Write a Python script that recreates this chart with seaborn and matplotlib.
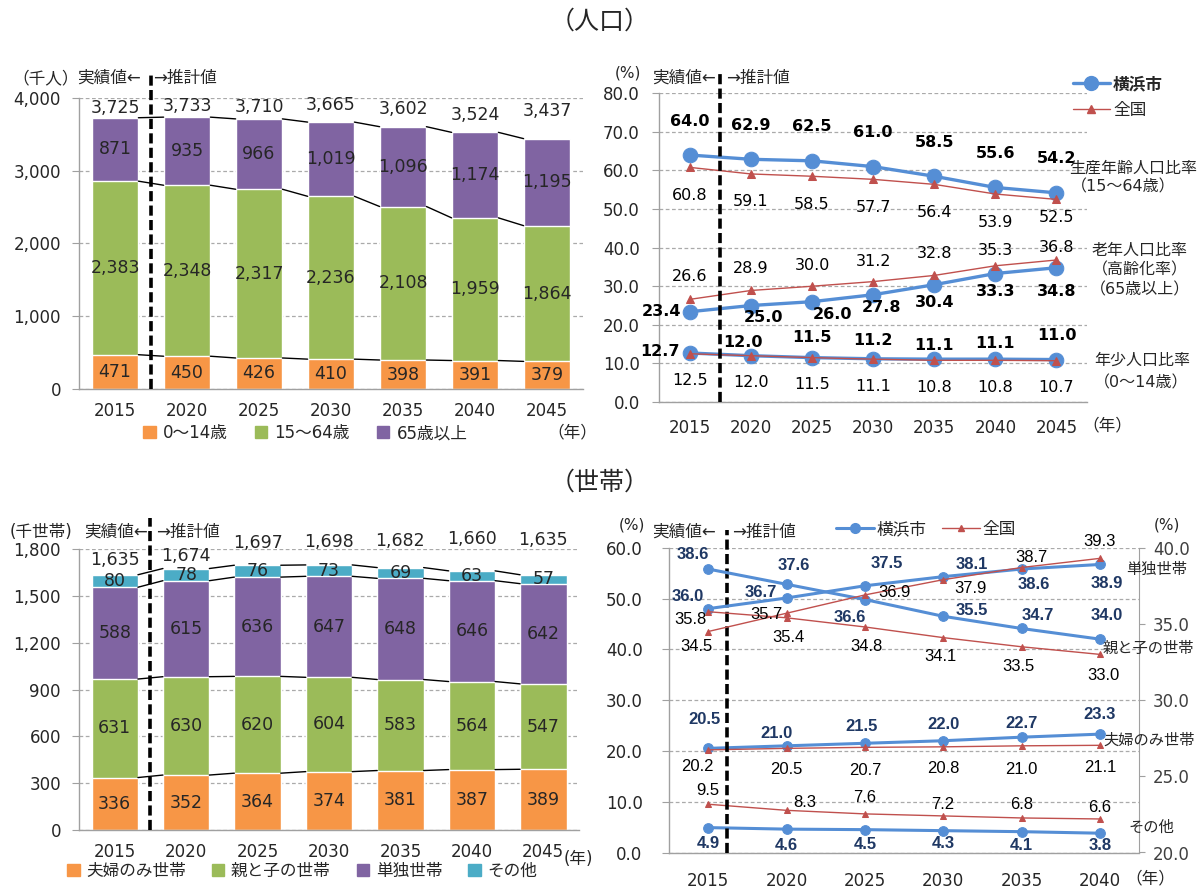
import numpy as np
import matplotlib
matplotlib.use("Agg")
import matplotlib.pyplot as plt
from matplotlib.lines import Line2D
from matplotlib.patches import Patch
import seaborn as sns

# === DATA ===
years7 = ["2015", "2020", "2025", "2030", "2035", "2040", "2045"]
years6 = years7[:6]

# 人口 (千人)
pop_0_14 = [471, 450, 426, 410, 398, 391, 379]
pop_15_64 = [2383, 2348, 2317, 2236, 2108, 1959, 1864]
pop_65 = [871, 935, 966, 1019, 1096, 1174, 1195]
pop_total = [3725, 3733, 3710, 3665, 3602, 3524, 3437]

# 年齢別人口比率 (%)
work_yoko = [64.0, 62.9, 62.5, 61.0, 58.5, 55.6, 54.2]
work_jpn = [60.8, 59.1, 58.5, 57.7, 56.4, 53.9, 52.5]
old_yoko = [23.4, 25.0, 26.0, 27.8, 30.4, 33.3, 34.8]
old_jpn = [26.6, 28.9, 30.0, 31.2, 32.8, 35.3, 36.8]
young_yoko = [12.7, 12.0, 11.5, 11.2, 11.1, 11.1, 11.0]
young_jpn = [12.5, 12.0, 11.5, 11.1, 10.8, 10.8, 10.7]

# 世帯 (千世帯)
hh_couple = [336, 352, 364, 374, 381, 387, 389]
hh_parent = [631, 630, 620, 604, 583, 564, 547]
hh_single = [588, 615, 636, 647, 648, 646, 642]
hh_other = [80, 78, 76, 73, 69, 63, 57]
hh_total = [1635, 1674, 1697, 1698, 1682, 1660, 1635]

# 世帯類型別割合 (%)
single_yoko = [36.0, 36.7, 37.5, 38.1, 38.6, 38.9]
single_jpn = [34.5, 35.7, 36.9, 37.9, 38.7, 39.3]
parent_yoko = [38.6, 37.6, 36.6, 35.5, 34.7, 34.0]
parent_jpn = [35.8, 35.4, 34.8, 34.1, 33.5, 33.0]
couple_yoko = [20.5, 21.0, 21.5, 22.0, 22.7, 23.3]
couple_jpn = [20.2, 20.5, 20.7, 20.8, 21.0, 21.1]
other_yoko = [4.9, 4.6, 4.5, 4.3, 4.1, 3.8]
other_jpn = [9.5, 8.3, 7.6, 7.2, 6.8, 6.6]

# === STYLE ===
ORANGE, GREEN, PURPLE, TEAL = "#F79646", "#9BBB59", "#8064A2", "#4BACC6"
BLUE, RED, NAVY = "#558ED5", "#C0504D", "#1F3864"
AXIS_GRAY, GRID_GRAY = "#A0A0A0", "#AAAAAA"
BAR_W = 0.65

sns.set_style("white")
plt.rcParams["font.family"] = ["DejaVu Sans", "Noto Sans CJK JP"]
ARIAL = ["Liberation Sans", "DejaVu Sans"]

W, H = 1198, 888
fig = plt.figure(figsize=(W / 100, H / 100), dpi=100)


def fx(px):
    return px / W


def fy(py):
    return 1 - py / H


def add_axes(l, t, r, b):
    return fig.add_axes([fx(l), fy(b), (r - l) / W, (b - t) / H])


def style_axes(ax, labels, xpad, ypad):
    n = len(labels)
    ax.set_xlim(-0.5, n - 0.5)
    for s in ["top", "right"]:
        ax.spines[s].set_visible(False)
    for s in ["left", "bottom"]:
        ax.spines[s].set_color(AXIS_GRAY)
        ax.spines[s].set_linewidth(1)
    ax.set_xticks(range(n))
    ax.set_xticklabels(labels)
    ax.set_xticks(np.arange(-0.5, n), minor=True)
    ax.tick_params(axis="x", which="major", length=0, pad=xpad, labelsize=12)
    ax.tick_params(axis="x", which="minor", length=5, color=AXIS_GRAY)
    ax.tick_params(axis="y", length=5, color=AXIS_GRAY, pad=ypad, labelsize=12, left=True)
    ax.yaxis.grid(True, color=GRID_GRAY, ls=(0, (3, 2)), lw=0.9)
    ax.xaxis.grid(False)
    ax.set_axisbelow(True)
    ax.set_xlabel("")
    ax.set_ylabel("")


def stacked(ax, labels, layers, colors, totals, total_offs):
    cums = np.cumsum(layers, axis=0)
    for cum, c in reversed(list(zip(cums, colors))):
        sns.barplot(x=labels, y=cum, color=c, width=BAR_W, saturation=1,
                    edgecolor="white", linewidth=1, errorbar=None, ax=ax)
    n = len(labels)
    # series lines between bars
    for cum in cums:
        for i in range(n - 1):
            ax.plot([i + BAR_W / 2, i + 1 - BAR_W / 2], [cum[i], cum[i + 1]],
                    color="black", lw=1, zorder=3)
    # segment labels
    for vals, cum in zip(layers, cums):
        for i, v in enumerate(vals):
            ax.text(i, cum[i] - v / 2, f"{v:,}", ha="center", va="center", fontsize=12.5, zorder=4)
    for i, (t, off) in enumerate(zip(totals, total_offs)):
        ax.annotate(f"{t:,}", (i, t), xytext=(0, off), textcoords="offset pixels",
                    ha="center", va="center", fontsize=12.5, annotation_clip=False)


def line(ax, vals, color, marker, ms, lw, z):
    sns.lineplot(x=np.arange(len(vals)), y=vals, color=color, marker=marker, markersize=ms,
                 markeredgecolor=color, linewidth=lw, zorder=z, legend=False, ax=ax)


def value_labels(ax, vals, offs, color="black", weight="normal", size=11, family=None):
    for i, (v, (dx, dy)) in enumerate(zip(vals, offs)):
        ax.annotate(f"{v:.1f}", (i, v), xytext=(dx, dy), textcoords="offset pixels",
                    ha="center", va="center", color=color, fontweight=weight,
                    fontsize=size, family=family, annotation_clip=False, zorder=6)


def split_line(ax, xpos, ymax):
    ax.axvline(xpos, ymin=0, ymax=ymax, color="black", lw=2.6, ls=(0, (2.8, 1.2)),
               clip_on=False, zorder=8)


def head(px_left, px_right, py):
    fig.text(fx(px_left), fy(py), "実績値←", ha="right", va="center", fontsize=12)
    fig.text(fx(px_right), fy(py), "→推計値", ha="left", va="center", fontsize=12)


# === 1. 人口 stacked bars ===
ax1 = add_axes(79, 97.7, 583, 389)
stacked(ax1, years7, [pop_0_14, pop_15_64, pop_65], [ORANGE, GREEN, PURPLE],
        pop_total, [10, 11, 12, 17, 18, 17, 28])
style_axes(ax1, years7, 9, 8)
ax1.set_ylim(0, 4000)
ax1.set_yticks(range(0, 4001, 1000))
ax1.set_yticklabels([f"{v:,}" for v in range(0, 4001, 1000)])
split_line(ax1, 0.5, 1.089)
fig.text(fx(12), fy(78), "（千人）", ha="left", va="center", fontsize=12)
head(141, 153, 78)
ax1.legend(handles=[Patch(color=ORANGE, label="0～14歳"), Patch(color=GREEN, label="15～64歳"),
                    Patch(color=PURPLE, label="65歳以上")],
           ncol=3, loc="center left", bbox_to_anchor=(fx(143), fy(433)), bbox_transform=fig.transFigure,
           frameon=False, fontsize=12, handlelength=0.75, handleheight=0.75, handletextpad=0.45,
           columnspacing=1.6, borderpad=0, borderaxespad=0)
fig.text(fx(572), fy(432), "（年）", ha="center", va="center", fontsize=12)

# === 2. 人口比率 lines ===
ax2 = add_axes(659.3, 93.3, 1087, 402)
for y, c, m, ms, lw, z in [(work_yoko, BLUE, "o", 10.5, 2.4, 3), (old_yoko, BLUE, "o", 10.5, 2.4, 3),
                           (young_yoko, BLUE, "o", 10.5, 2.4, 3), (work_jpn, RED, "^", 5.5, 1, 4),
                           (old_jpn, RED, "^", 5.5, 1, 4), (young_jpn, RED, "^", 5.5, 1, 4)]:
    line(ax2, y, c, m, ms, lw, z)
style_axes(ax2, years7, 12, 9)
ax2.set_ylim(0, 80)
ax2.set_yticks(np.arange(0, 81, 10))
ax2.set_yticklabels([f"{v:.1f}" for v in np.arange(0, 81, 10)])
split_line(ax2, 0.5, 1.075)
value_labels(ax2, work_yoko, [(0, 34)] * 7, weight="bold", size=11.5)
value_labels(ax2, work_jpn, [(0, -28)] * 6 + [(0, -18)], size=11.5)
value_labels(ax2, old_yoko, [(-28, 0), (13, -12), (20, -13), (8, -13), (0, -18), (0, -18), (0, -24)],
             weight="bold", size=11.5)
value_labels(ax2, old_jpn, [(0, 23), (0, 22), (0, 21), (0, 20), (0, 22), (0, 15), (0, 12)], size=11.5)
value_labels(ax2, young_yoko, [(-30, 1), (-8, 13), (0, 20), (0, 18), (0, 14), (0, 16), (0, 24)],
             weight="bold", size=11.5)
value_labels(ax2, young_jpn, [(0, -27)] * 7, size=11.5)
fig.text(fx(628), fy(73), "(%)", ha="center", va="center", fontsize=11)
head(716, 726, 78)
leg2 = ax2.legend(handles=[Line2D([], [], color=BLUE, lw=2.4, marker="o", ms=10),
                           Line2D([], [], color=RED, lw=1, marker="^", ms=5.5)],
                  labels=["横浜市", "全国"], loc="upper left", bbox_to_anchor=(fx(1073), fy(75)),
                  bbox_transform=fig.transFigure, frameon=False, fontsize=12, handlelength=2.2,
                  handletextpad=0.2, labelspacing=0.5, borderpad=0, borderaxespad=0)
leg2.get_texts()[0].set_fontweight("bold")
fig.text(fx(1197), fy(168), "生産年齢人口比率", ha="right", va="center", fontsize=11.5)
fig.text(fx(1123), fy(187), "（15～64歳）", ha="center", va="center", fontsize=11.5)
fig.text(fx(1140), fy(250), "老年人口比率", ha="center", va="center", fontsize=11.5)
fig.text(fx(1140), fy(270), "（高齢化率）", ha="center", va="center", fontsize=11.5)
fig.text(fx(1140), fy(290), "（65歳以上）", ha="center", va="center", fontsize=11.5)
fig.text(fx(1142), fy(360), "年少人口比率", ha="center", va="center", fontsize=11.5)
fig.text(fx(1141), fy(383), "（0～14歳）", ha="center", va="center", fontsize=11.5)
fig.text(fx(1107), fy(425), "（年）", ha="center", va="center", fontsize=12)

# === 3. 世帯 stacked bars ===
ax3 = add_axes(79, 549, 579, 830)
stacked(ax3, years7, [hh_couple, hh_parent, hh_single, hh_other], [ORANGE, GREEN, PURPLE, TEAL],
        hh_total, [15, 13, 22, 23, 26, 32, 35])
style_axes(ax3, years7, 9, 8)
ax3.set_ylim(0, 1800)
ax3.set_yticks(range(0, 1801, 300))
ax3.set_yticklabels([f"{v:,}" for v in range(0, 1801, 300)])
split_line(ax3, 0.5, 1.11)
fig.text(fx(10), fy(532), "(千世帯)", ha="left", va="center", fontsize=12)
head(148, 156, 532)
ax3.legend(handles=[Patch(color=ORANGE, label="夫婦のみ世帯"), Patch(color=GREEN, label="親と子の世帯"),
                    Patch(color=PURPLE, label="単独世帯"), Patch(color=TEAL, label="その他")],
           ncol=4, loc="center left", bbox_to_anchor=(fx(67), fy(871)), bbox_transform=fig.transFigure,
           frameon=False, fontsize=12, handlelength=0.75, handleheight=0.75, handletextpad=0.4,
           columnspacing=1.55, borderpad=0, borderaxespad=0)
fig.text(fx(578), fy(859), "(年)", ha="center", va="center", fontsize=12)

# === 4. 世帯類型別割合 lines (two y axes) ===
ax4 = add_axes(669, 547.7, 1139, 852.5)
ax4r = ax4.twinx()
line(ax4, couple_yoko, BLUE, "o", 7, 2.2, 3)
line(ax4, other_yoko, BLUE, "o", 7, 2.2, 3)
line(ax4, couple_jpn, RED, "^", 5, 1, 4)
line(ax4, other_jpn, RED, "^", 5, 1, 4)
line(ax4r, single_yoko, BLUE, "o", 7, 2.2, 3)
line(ax4r, parent_yoko, BLUE, "o", 7, 2.2, 3)
line(ax4r, single_jpn, RED, "^", 5, 1, 4)
line(ax4r, parent_jpn, RED, "^", 5, 1, 4)
style_axes(ax4, years6, 14, 14)
ax4.set_ylim(0, 60)
ax4.set_yticks(np.arange(0, 61, 10))
ax4.set_yticklabels([f"{v:.1f}" for v in np.arange(0, 61, 10)])
ax4r.set_xlim(-0.5, 5.5)
ax4r.set_ylim(20, 40)
ax4r.set_yticks(np.arange(20, 41, 5))
ax4r.set_yticklabels([f"{v:.1f}" for v in np.arange(20, 41, 5)])
for s in ["top", "left", "bottom"]:
    ax4r.spines[s].set_visible(False)
ax4r.spines["right"].set_color(AXIS_GRAY)
ax4r.tick_params(axis="y", length=4, color=AXIS_GRAY, pad=6, labelsize=12, labelcolor="#404040")
ax4r.grid(False)
ax4r.set_ylabel("")
split_line(ax4, 0.24, 1.058)
value_labels(ax4r, single_yoko, [(-20, 12), (-26, 5), (22, 22), (29, 12), (12, -15), (7, -19)],
             color=NAVY, weight="bold", size=12, family=ARIAL)
value_labels(ax4r, parent_yoko, [(-15, 15), (7, 19), (-15, -18), (29, 6), (16, 13), (7, 24)],
             color=NAVY, weight="bold", size=12, family=ARIAL)
value_labels(ax4r, single_jpn, [(-12, -15), (-20, -1), (30, 2), (27, -9), (10, 10), (0, 17)],
             size=12, family=ARIAL)
value_labels(ax4r, parent_jpn, [(-18, -8), (2, -20), (2, -20), (-3, -19), (-3, -20), (4, -21)],
             size=12, family=ARIAL)
value_labels(ax4, couple_yoko, [(-4, 29), (-10, 12), (-3, 17), (0, 16), (0, 14), (0, 20)],
             color=NAVY, weight="bold", size=12, family=ARIAL)
value_labels(ax4, couple_jpn, [(-11, -17), (0, -21), (0, -23), (0, -22), (0, -24), (0, -22)],
             size=12, family=ARIAL)
value_labels(ax4, other_yoko, [(0, -16), (0, -16), (0, -15), (0, -13), (0, -14), (0, -12)],
             color=NAVY, weight="bold", size=12, family=ARIAL)
value_labels(ax4, other_jpn, [(0, 14), (18, 8), (0, 16), (0, 11), (0, 13), (0, 11)],
             size=12, family=ARIAL)
fig.text(fx(632), fy(525), "(%)", ha="center", va="center", fontsize=11)
fig.text(fx(1167), fy(525), "(%)", ha="center", va="center", fontsize=11)
head(716, 732, 532)
ax4.legend(handles=[Line2D([], [], color=BLUE, lw=2.2, marker="o", ms=7),
                    Line2D([], [], color=RED, lw=1, marker="^", ms=5)],
           labels=["横浜市", "全国"], ncol=2, loc="center left", bbox_to_anchor=(fx(836), fy(529)),
           bbox_transform=fig.transFigure, frameon=False, fontsize=12, handlelength=2.3,
           handletextpad=0.15, columnspacing=0.9, borderpad=0, borderaxespad=0)
fig.text(fx(1126), fy(569), "単独世帯", ha="left", va="center", fontsize=11)
fig.text(fx(1103), fy(648), "親と子の世帯", ha="left", va="center", fontsize=11)
fig.text(fx(1103), fy(740), "夫婦のみ世帯", ha="left", va="center", fontsize=11)
fig.text(fx(1128), fy(827), "その他", ha="left", va="center", fontsize=11)
fig.text(fx(1150), fy(878), "（年）", ha="center", va="center", fontsize=12)

# === titles ===
fig.text(fx(600), fy(22), "（人口）", ha="center", va="center", fontsize=18)
fig.text(fx(600), fy(483), "（世帯）", ha="center", va="center", fontsize=18)

fig.savefig("out.png", dpi=100)
